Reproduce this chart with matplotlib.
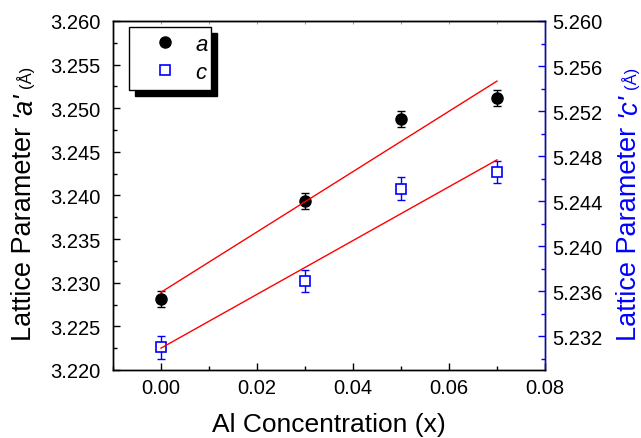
import numpy as np
import matplotlib.pyplot as plt
from matplotlib.ticker import MultipleLocator, FormatStrFormatter
from matplotlib.patches import Rectangle

plt.rcParams['font.family'] = ['Liberation Sans', 'DejaVu Sans']

# Al content and lattice parameters (Å)
al_conc = [0.00, 0.03, 0.05, 0.07]
lat_a = [3.2281, 3.2394, 3.2488, 3.2512]
err_a = [0.0009, 0.0009, 0.0009, 0.0009]
lat_c = [5.2310, 5.2369, 5.2451, 5.2466]
err_c = [0.0010, 0.0010, 0.0010, 0.0010]

fig = plt.figure(figsize=(6.41, 4.39), dpi=100)
ax = fig.add_axes([0.1763, 0.1549, 0.6739, 0.7950])
ax2 = ax.twinx()

# linear fits
xfit = np.array([min(al_conc), max(al_conc)])
fit_a = np.polyfit(al_conc, lat_a, 1)
fit_c = np.polyfit(al_conc, lat_c, 1)

ax.errorbar(al_conc, lat_a, yerr=err_a, fmt='none', ecolor='black',
            elinewidth=1, capsize=3, capthick=1, zorder=2)
pa, = ax.plot(al_conc, lat_a, 'o', color='black', ms=8, zorder=3)
ax.plot(xfit, np.polyval(fit_a, xfit), color='red', lw=1, zorder=4)

ax2.errorbar(al_conc, lat_c, yerr=err_c, fmt='none', ecolor='blue',
             elinewidth=1, capsize=3, capthick=1, zorder=2)
pc, = ax2.plot(al_conc, lat_c, 's', mfc='white', mec='blue', mew=1.2, ms=7, zorder=3)
ax2.plot(xfit, np.polyval(fit_c, xfit), color='red', lw=1, zorder=4)

ax.set_xlim(-0.01, 0.08)
ax.set_ylim(3.220, 3.260)
ax2.set_ylim(5.229, 5.260)

ax.xaxis.set_major_locator(MultipleLocator(0.02))
ax.xaxis.set_minor_locator(MultipleLocator(0.01))
ax.xaxis.set_major_formatter(FormatStrFormatter('%.2f'))
ax.yaxis.set_major_locator(MultipleLocator(0.005))
ax.yaxis.set_minor_locator(MultipleLocator(0.0025))
ax.yaxis.set_major_formatter(FormatStrFormatter('%.3f'))
ax2.yaxis.set_major_locator(MultipleLocator(0.004))
ax2.yaxis.set_minor_locator(MultipleLocator(0.002))
ax2.yaxis.set_major_formatter(FormatStrFormatter('%.3f'))

ax.tick_params(which='major', direction='in', length=5, width=1, labelsize=14.5)
ax.tick_params(which='minor', direction='in', length=3, width=1)
ax.tick_params(axis='y', which='both', right=False, pad=9)
ax.tick_params(axis='x', which='both', top=False, pad=6)
ax2.tick_params(axis='y', which='major', direction='in', length=5, width=1,
                color='blue', labelcolor='black', labelsize=14.5, pad=5.5)
ax2.tick_params(axis='y', which='minor', direction='in', length=3, width=1, color='blue')

top = ax.secondary_xaxis('top')
top.xaxis.set_major_locator(MultipleLocator(0.01))
top.tick_params(axis='x', which='both', direction='in', length=2.5, width=0.6,
                color='0.55', labeltop=False)

for s in ax.spines.values():
    s.set_linewidth(1)
for s in ax2.spines.values():
    s.set_linewidth(1)
ax2.spines['right'].set_color('blue')

ax.set_xlabel('Al Concentration (x)', fontsize=19, labelpad=10.5)

ylab_a = ax.set_ylabel('Lattice Parameter', fontsize=19.5)
ax.yaxis.set_label_coords(-0.177, 0.3926)
ylab_c = ax2.set_ylabel('Lattice Parameter', fontsize=19.5, color='blue')
ax2.yaxis.set_label_coords(1.164, 0.3926)


def label_tail(label, var, color):
    sym = ax2.annotate(f"'{var}'", xy=(1, 1), xycoords=label, xytext=(0, 7),
                       textcoords='offset points', rotation=90, ha='right', va='bottom',
                       fontsize=19.5, fontstyle='italic', color=color)
    ax2.annotate('(Å)', xy=(1, 1), xycoords=sym, xytext=(-4.1, 3),
                 textcoords='offset points', rotation=90, rotation_mode='anchor',
                 ha='left', va='baseline', fontsize=12, color=color)


label_tail(ylab_a, 'a', 'black')
label_tail(ylab_c, 'c', 'blue')

# legend box with a solid drop shadow
ax2.add_patch(Rectangle((0.0502, 0.7860), 0.1899, 0.1805, transform=ax2.transAxes,
                        facecolor='black', edgecolor='black', lw=1, zorder=4.8))
ax2.add_patch(Rectangle((0.0370, 0.8023), 0.1899, 0.1805, transform=ax2.transAxes,
                        facecolor='white', edgecolor='black', lw=1, zorder=4.9))

leg = ax2.legend([pa, pc], ['a', 'c'], loc='upper left', bbox_to_anchor=(0.069, 0.964),
                 borderaxespad=0, borderpad=0, frameon=False, handlelength=2.0,
                 handletextpad=0.35, labelspacing=0.32,
                 prop={'style': 'italic', 'size': 16})
leg.set_zorder(5)

fig.savefig('out.png', dpi=100)
